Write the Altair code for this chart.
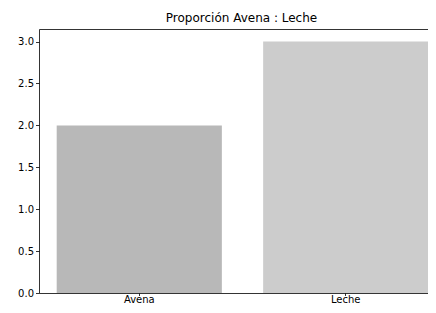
import altair as alt
import pandas as pd

categories = ["Avena", "Leche"]
values = [2, 3]
colors = ["#b8b8b8", "#cccccc"]

df = pd.DataFrame({"cat": categories, "val": values, "color": colors})

font = "DejaVu Sans"

xscale = alt.Scale(domain=categories, range=[0, 407], paddingInner=0.2, paddingOuter=0.0857)
yscale = alt.Scale(domain=[0, 3.15], nice=False, zero=True)

bars = alt.Chart(df).mark_bar().encode(
    x=alt.X("cat:N", scale=xscale, sort=categories,
            axis=alt.Axis(orient="bottom", title=None, labelAngle=0, domainColor="black",
                          domainWidth=0.8, tickColor="black", tickWidth=0.8, tickSize=2.5,
                          labelPadding=-1, labelFont=font, labelFontSize=10, labelColor="black")),
    y=alt.Y("val:Q", scale=yscale,
            axis=alt.Axis(title=None, values=[0, 0.5, 1.0, 1.5, 2.0, 2.5, 3.0], format=".1f",
                          grid=False, domainColor="black", domainWidth=0.8, tickColor="black",
                          tickWidth=0.8, tickSize=3.5, labelPadding=2, labelFont=font,
                          labelFontSize=10, labelColor="black")),
    color=alt.Color("color:N", scale=None),
)

top = alt.Chart(df).mark_bar(opacity=0).encode(
    x=alt.X("cat:N", scale=xscale, sort=categories,
            axis=alt.Axis(orient="top", title=None, labels=False, ticks=False,
                          domainColor="black", domainWidth=0.8)),
    y=alt.Y("val:Q", scale=yscale),
)

chart = alt.layer(bars, top).properties(
    width=389, height=264,
    title=alt.TitleParams("Proporción Avena : Leche", font=font, fontSize=12,
                          fontWeight="normal", color="black", anchor="middle", dx=8, offset=4),
    autosize=alt.AutoSizeParams(type="none"),
    padding={"left": 31, "top": 21, "right": 0, "bottom": 12},
).configure_view(stroke=None)

chart.save("out.html", embed_options={"renderer": "svg", "actions": False})
